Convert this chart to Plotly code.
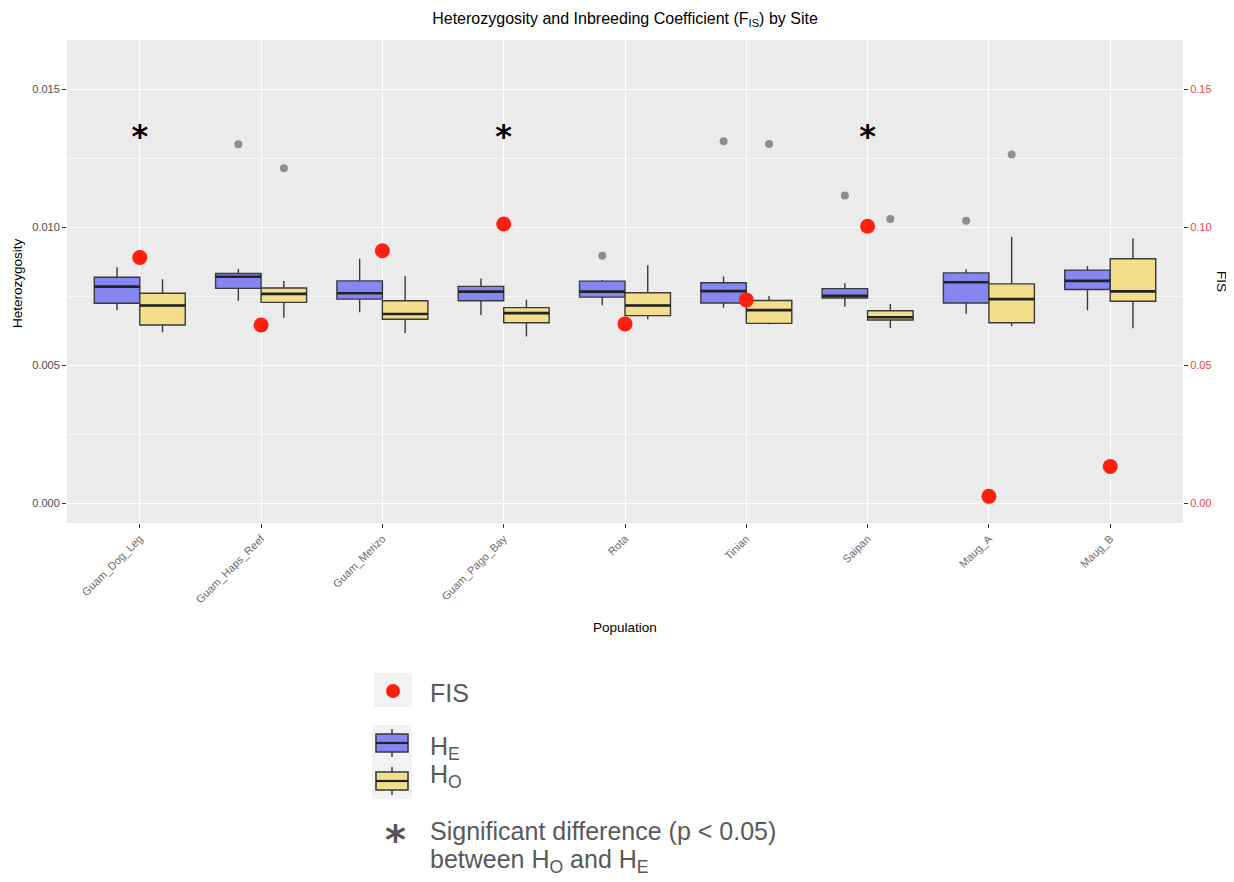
import plotly.graph_objects as go

# ---------------- data ----------------
populations = ["Guam_Dog_Leg", "Guam_Haps_Reef", "Guam_Merizo", "Guam_Pago_Bay",
               "Rota", "Tinian", "Saipan", "Maug_A", "Maug_B"]

# Expected heterozygosity (HE) box statistics
he_lower = [0.00699, 0.00733, 0.00691, 0.00681, 0.00717, 0.00708, 0.00711, 0.00686, 0.00699]
he_q1    = [0.00724, 0.00778, 0.00739, 0.00733, 0.00746, 0.00725, 0.00743, 0.00725, 0.00774]
he_med   = [0.00784, 0.00820, 0.00760, 0.00766, 0.00766, 0.00768, 0.00751, 0.00800, 0.00805]
he_q3    = [0.00818, 0.00832, 0.00805, 0.00785, 0.00804, 0.00798, 0.00777, 0.00834, 0.00844]
he_upper = [0.00854, 0.00848, 0.00885, 0.00814, 0.00808, 0.00821, 0.00796, 0.00847, 0.00859]

# Observed heterozygosity (HO) box statistics
ho_lower = [0.00619, 0.00671, 0.00616, 0.00603, 0.00666, 0.00648, 0.00634, 0.00641, 0.00633]
ho_q1    = [0.00645, 0.00727, 0.00666, 0.00653, 0.00679, 0.00651, 0.00663, 0.00653, 0.00731]
ho_med   = [0.00716, 0.00758, 0.00685, 0.00688, 0.00716, 0.00699, 0.00673, 0.00739, 0.00767]
ho_q3    = [0.00760, 0.00779, 0.00733, 0.00708, 0.00762, 0.00734, 0.00697, 0.00794, 0.00885]
ho_upper = [0.00811, 0.00805, 0.00823, 0.00737, 0.00862, 0.00750, 0.00721, 0.00965, 0.00959]

# Outliers (population, value)
he_out_pop = ["Guam_Haps_Reef", "Rota", "Tinian", "Saipan", "Maug_A"]
he_out_val = [0.01300, 0.00896, 0.01311, 0.01114, 0.01023]
ho_out_pop = ["Guam_Haps_Reef", "Tinian", "Saipan", "Maug_A"]
ho_out_val = [0.01213, 0.01301, 0.01029, 0.01263]

# Inbreeding coefficient FIS (right axis)
fis = [0.0890, 0.0645, 0.0914, 0.1011, 0.0649, 0.0736, 0.1003, 0.0024, 0.0132]

# Significant HO/HE difference markers
sig_pops = ["Guam_Dog_Leg", "Guam_Pago_Bay", "Saipan"]
sig_y = [0.0132, 0.0132, 0.0132]

# ---------------- styles ----------------
HE_FILL = "#8686F2"
HO_FILL = "#F3DE8C"
EDGE = "#3A3A3A"
FIS_RED = "#FF1F0F"
OUT_GREY = "#8E8E8E"
DODGE = 0.1875
HALF_W = 0.1875
FONT = "Liberation Sans, Arial, sans-serif"

idx = {p: i for i, p in enumerate(populations)}
xpos = list(range(len(populations)))

fig = go.Figure()

fig.add_trace(go.Box(
    name="H<sub>E</sub>", x=xpos, q1=he_q1, median=he_med, q3=he_q3,
    lowerfence=he_lower, upperfence=he_upper, boxpoints=False,
    fillcolor=HE_FILL, line=dict(color=EDGE, width=1.4), whiskerwidth=0,
    showlegend=False, offsetgroup="HE"))
fig.add_trace(go.Box(
    name="H<sub>O</sub>", x=xpos, q1=ho_q1, median=ho_med, q3=ho_q3,
    lowerfence=ho_lower, upperfence=ho_upper, boxpoints=False,
    fillcolor=HO_FILL, line=dict(color=EDGE, width=1.4), whiskerwidth=0,
    showlegend=False, offsetgroup="HO"))

# thicker median lines (ggplot style)
mx, my = [], []
for i in xpos:
    for off, med in ((-DODGE, he_med[i]), (DODGE, ho_med[i])):
        mx += [i + off - HALF_W, i + off + HALF_W, None]
        my += [med, med, None]
fig.add_trace(go.Scatter(x=mx, y=my, mode="lines", line=dict(color="#222222", width=2.6),
                         showlegend=False, hoverinfo="skip"))

# outliers
fig.add_trace(go.Scatter(x=[idx[p] - DODGE for p in he_out_pop], y=he_out_val, mode="markers",
                         marker=dict(color=OUT_GREY, size=8), showlegend=False))
fig.add_trace(go.Scatter(x=[idx[p] + DODGE for p in ho_out_pop], y=ho_out_val, mode="markers",
                         marker=dict(color=OUT_GREY, size=8), showlegend=False))

# FIS points on secondary axis
fig.add_trace(go.Scatter(x=xpos, y=fis, yaxis="y2", mode="markers", name="FIS",
                         marker=dict(color=FIS_RED, size=15), showlegend=False))

# significance asterisks
fig.add_trace(go.Scatter(x=[idx[p] for p in sig_pops], y=sig_y, mode="text", text=["*"] * len(sig_pops),
                         textposition="middle center",
                         textfont=dict(family="DejaVu Sans, Arial", size=32, color="black", weight="bold"),
                         showlegend=False, hoverinfo="skip"))

# ---------------- layout ----------------
# page body adds an 8px offset; work in reference pixel coordinates
OFF = 8
FIG_W, FIG_H = 1234 - OFF, 882 - OFF
L, R, T, B = 67, 1183, 40, 523
W, H = R - L, B - T


def pxx(x):
    return (x - L) / W


def pxy(y):
    return (B - y) / H


yr = [-0.000725, 0.01678]

shapes = []
annotations = []
# FIS key
shapes.append(dict(type="rect", xref="paper", yref="paper", x0=pxx(374), x1=pxx(412), y0=pxy(707), y1=pxy(673),
                   fillcolor="#F2F2F2", line=dict(width=0), layer="above"))
shapes.append(dict(type="circle", xref="paper", yref="paper", x0=pxx(386), x1=pxx(400), y0=pxy(698), y1=pxy(684),
                   fillcolor=FIS_RED, line=dict(width=0), layer="above"))
# HE / HO keys
shapes.append(dict(type="rect", xref="paper", yref="paper", x0=pxx(372), x1=pxx(412), y0=pxy(799), y1=pxy(725),
                   fillcolor="#F2F2F2", line=dict(width=0), layer="above"))
for (wt, bt, md, bb, wb, col) in ((729, 734, 743, 752, 757, HE_FILL), (767, 772, 781, 790, 795, HO_FILL)):
    shapes.append(dict(type="line", xref="paper", yref="paper", x0=pxx(392), x1=pxx(392), y0=pxy(wb), y1=pxy(wt),
                       line=dict(color=EDGE, width=1.5), layer="above"))
    shapes.append(dict(type="rect", xref="paper", yref="paper", x0=pxx(376), x1=pxx(408), y0=pxy(bb), y1=pxy(bt),
                       fillcolor=col, line=dict(color=EDGE, width=1.6), layer="above"))
    shapes.append(dict(type="line", xref="paper", yref="paper", x0=pxx(376), x1=pxx(408), y0=pxy(md), y1=pxy(md),
                       line=dict(color="#222222", width=2.2), layer="above"))

LEG_FONT = dict(family=FONT, size=25, color="#595959")


def ann(text, x, y, xanchor="left", yanchor="middle", font=LEG_FONT, **kw):
    annotations.append(dict(text=text, xref="paper", yref="paper", x=pxx(x), y=pxy(y),
                            xanchor=xanchor, yanchor=yanchor, showarrow=False, font=font, **kw))


ann("FIS", 428, 693)
ann("H<sub>E</sub>", 428, 748)
ann("H<sub>O</sub>", 428, 776)
ann("*", 395, 840, xanchor="center",
    font=dict(family="DejaVu Sans, Arial", size=40, color="#555555", weight="bold"))
ann("Significant difference (p < 0.05)", 428, 831)
ann("between H<sub>O</sub> and H<sub>E</sub>", 428, 861)

# axis titles
TITLE_FONT = dict(family=FONT, size=13.5, color="black")
ann("Heterozygosity", 17, 283, xanchor="center", font=TITLE_FONT, textangle=-90)
ann("FIS", 1222, 281, xanchor="center", font=TITLE_FONT, textangle=90)
ann("Population", 625, 627, xanchor="center", font=TITLE_FONT)

fig.update_layout(
    width=FIG_W, height=FIG_H,
    margin=dict(l=L - OFF, r=FIG_W - (R - OFF), t=T - OFF, b=FIG_H - (B - OFF), autoexpand=False),
    paper_bgcolor="white", plot_bgcolor="#EBEBEB",
    boxmode="group", boxgap=0.25, boxgroupgap=0.0,
    font=dict(family=FONT, color="#4D4D4D"),
    title=dict(text="Heterozygosity and Inbreeding Coefficient (F<sub>IS</sub>) by Site",
               x=0.5, xref="paper", xanchor="center", y=1 - (18 - OFF) / FIG_H, yanchor="middle",
               font=dict(family=FONT, size=16, color="black")),
    xaxis=dict(range=[-0.6, len(populations) - 0.4], tickmode="array", tickvals=xpos, ticktext=populations,
               tickangle=-45, tickfont=dict(size=11, color="#6B6B6B"), ticks="outside", ticklen=4,
               tickcolor="#333333", showgrid=True, gridcolor="white", gridwidth=1.3, zeroline=False,
               showline=False, automargin=False),
    yaxis=dict(range=yr, tickmode="array", tickvals=[0, 0.005, 0.010, 0.015],
               ticktext=["0.000", "0.005", "0.010", "0.015"],
               tickfont=dict(size=11, color="#4D4D4D"), ticks="outside", ticklen=4, tickcolor="#333333",
               showgrid=True, gridcolor="white", gridwidth=1.3, zeroline=False, showline=False,
               automargin=False,
               minor=dict(tickvals=[0.0025, 0.0075, 0.0125], showgrid=True, gridcolor="#F7F7F7", gridwidth=0.7)),
    yaxis2=dict(range=[v * 10 for v in yr], overlaying="y", side="right", tickmode="array",
                tickvals=[0, 0.05, 0.10, 0.15], ticktext=["0.00", "0.05", "0.10", "0.15"],
                tickfont=dict(size=11, color="#F04545"), ticks="outside", ticklen=4, tickcolor="#333333",
                showgrid=False, zeroline=False, showline=False, automargin=False),
    shapes=shapes, annotations=annotations,
    showlegend=False,
)

fig.write_html("out.html")
